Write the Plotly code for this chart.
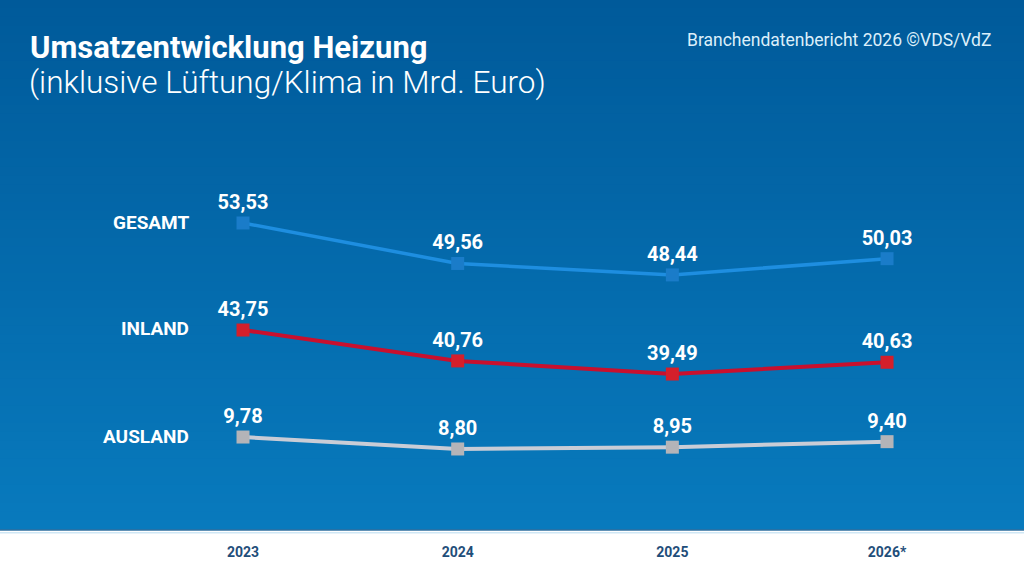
import plotly.graph_objects as go

years = ["2023", "2024", "2025", "2026*"]
gesamt = [53.53, 49.56, 48.44, 50.03]
inland = [43.75, 40.76, 39.49, 40.63]
ausland = [9.78, 8.80, 8.95, 9.40]
series_names = ["GESAMT", "INLAND", "AUSLAND"]


def de(v):
    return f"{v:.2f}".replace(".", ",")


fig = go.Figure()

# hintergrund: vertikaler verlauf aus schmalen streifen
top = (0, 90, 154)
bottom = (8, 122, 189)
n = 60
for i in range(n):
    t = i / (n - 1)
    c = tuple(round(top[k] + (bottom[k] - top[k]) * t) for k in range(3))
    fig.add_shape(type="rect", xref="paper", yref="paper",
                  x0=0, x1=1, y0=1 - (i + 1) / n, y1=1 - i / n + 0.002,
                  fillcolor=f"rgb{c}", line_width=0, layer="below")
fig.add_shape(type="line", xref="paper", yref="paper", x0=0, x1=1, y0=0, y1=0,
              line=dict(color="#2f6f9f", width=1.5), layer="below")
fig.add_shape(type="line", xref="paper", yref="paper", x0=0, x1=1, y0=-0.005, y1=-0.005,
              line=dict(color="#cfe7f5", width=1.5), layer="below")

styles = [
    ("y", gesamt, "#1e8ee0", "#1a7cc9", 3.5),
    ("y2", inland, "#c8102e", "#d41f2b", 4),
    ("y3", ausland, "#c9ccd6", "#b4b4b8", 4),
]
for name, (ax, vals, lc, mc, w) in zip(series_names, styles):
    fig.add_trace(go.Scatter(
        x=years, y=vals, yaxis=ax, mode="lines+markers+text",
        line=dict(color=lc, width=w),
        marker=dict(symbol="square", size=13, color=mc),
        text=[de(v) for v in vals], textposition="top center",
        textfont=dict(family="Roboto", size=20, color="white", weight="bold"),
        cliponaxis=False, name=name, showlegend=False, hoverinfo="skip"))

label_y = [222, 328, 436]
for name, py in zip(series_names, label_y):
    fig.add_annotation(text=name, xref="paper", yref="paper",
                       x=191 / 1024, y=1 - py / 530, xanchor="right", yanchor="middle",
                       showarrow=False,
                       font=dict(family="Roboto", size=19, color="white", weight="bold"))

fig.add_annotation(text="Umsatzentwicklung Heizung", xref="paper", yref="paper",
                   x=28 / 1024, y=1 - 48 / 530, xanchor="left", yanchor="middle",
                   showarrow=False,
                   font=dict(family="Roboto", size=31, color="white", weight="bold"))
fig.add_annotation(text="(inklusive Lüftung/Klima in Mrd. Euro)", xref="paper", yref="paper",
                   x=27 / 1024, y=1 - 83 / 530, xanchor="left", yanchor="middle",
                   showarrow=False,
                   font=dict(family="Roboto", size=31.5, color="white", weight=300))
fig.add_annotation(text="Branchendatenbericht 2026 ©VDS/VdZ", xref="paper", yref="paper",
                   x=993 / 1024, y=1 - 40 / 530, xanchor="right", yanchor="middle",
                   showarrow=False,
                   font=dict(family="Roboto", size=17.5, color="#dcefFa"))

fig.update_layout(
    width=1024, height=576,
    margin=dict(l=0, r=0, t=0, b=46),
    paper_bgcolor="white", plot_bgcolor="rgba(0,0,0,0)",
    hovermode=False,
    xaxis=dict(range=[-1.132, 3.638], showgrid=False, zeroline=False, showline=False,
               ticks="", ticklabelstandoff=12, fixedrange=True,
               tickfont=dict(family="Roboto", size=14, color="#1f4e7a", weight="bold")),
    yaxis=dict(range=[23.43, 75.39], visible=False, fixedrange=True),
    yaxis2=dict(range=[24.39, 75.70], visible=False, overlaying="y", fixedrange=True),
    yaxis3=dict(range=[2.16, 45.60], visible=False, overlaying="y", fixedrange=True),
)

fig.write_html("out.html", config={"displayModeBar": False},
               post_script="document.body.style.margin='0';")
